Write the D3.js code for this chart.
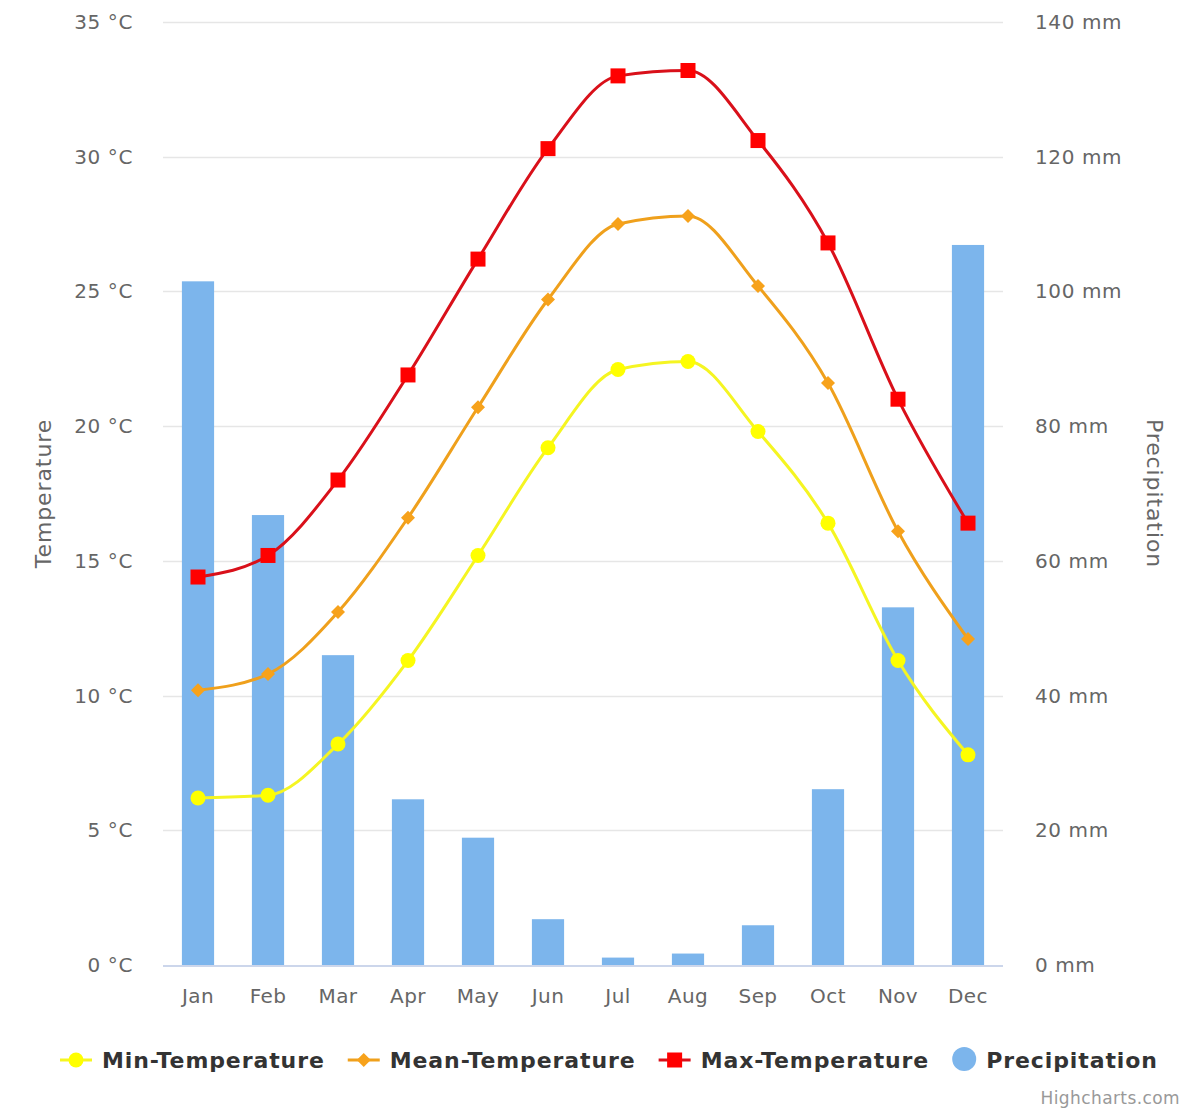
<!DOCTYPE html>
<html>
<head>
<meta charset="utf-8">
<script src="https://cdn.jsdelivr.net/npm/d3@7"></script>
<style>
  body { margin: 0; background: #fff; }
  text { font-family: "DejaVu Sans", sans-serif; }
</style>
</head>
<body>
<div id="chart"></div>
<script>
const months = ['Jan', 'Feb', 'Mar', 'Apr', 'May', 'Jun', 'Jul', 'Aug', 'Sep', 'Oct', 'Nov', 'Dec'];
const minTemp = [6.2, 6.3, 8.2, 11.3, 15.2, 19.2, 22.1, 22.4, 19.8, 16.4, 11.3, 7.8];
const meanTemp = [10.2, 10.8, 13.1, 16.6, 20.7, 24.7, 27.5, 27.8, 25.2, 21.6, 16.1, 12.1];
const maxTemp = [14.4, 15.2, 18.0, 21.9, 26.2, 30.3, 33.0, 33.2, 30.6, 26.8, 21.0, 16.4];
const precipitation = [101.5, 66.8, 46.0, 24.6, 18.9, 6.8, 1.1, 1.7, 5.9, 26.1, 53.1, 106.9];
const tempTicks = [0, 5, 10, 15, 20, 25, 30, 35];
const precTicks = [0, 20, 40, 60, 80, 100, 120, 140];

const W = 1189, H = 1115;
const plot = { left: 163, right: 1003, top: 22, bottom: 965 };

const svg = d3.select('#chart')
    .append('svg')
    .attr('width', W)
    .attr('height', H);

const x = d3.scaleBand()
    .domain(months)
    .range([plot.left, plot.right]);

const yT = d3.scaleLinear()
    .domain([0, 35])
    .range([plot.bottom, plot.top]);

const yP = d3.scaleLinear()
    .domain([0, 140])
    .range([plot.bottom, plot.top]);

const cx = m => x(m) + x.bandwidth() / 2;

// Grid lines
svg.append('g')
    .selectAll('line')
    .data(tempTicks.filter(t => t > 0))
    .enter()
    .append('line')
    .attr('x1', plot.left)
    .attr('x2', plot.right)
    .attr('y1', d => Math.round(yT(d)) + 0.5)
    .attr('y2', d => Math.round(yT(d)) + 0.5)
    .attr('stroke', '#e6e6e6')
    .attr('stroke-width', 1.5);

// Left axis labels
svg.append('g')
    .selectAll('text')
    .data(tempTicks)
    .enter()
    .append('text')
    .attr('x', 133)
    .attr('y', d => yT(d) + 7)
    .attr('text-anchor', 'end')
    .attr('font-size', 20)
    .attr('letter-spacing', 0.6)
    .attr('fill', '#666')
    .text(d => d + ' °C');

// Right axis labels
svg.append('g')
    .selectAll('text')
    .data(precTicks)
    .enter()
    .append('text')
    .attr('x', 1035)
    .attr('y', d => yP(d) + 7)
    .attr('text-anchor', 'start')
    .attr('font-size', 20)
    .attr('letter-spacing', 0.6)
    .attr('fill', '#666')
    .text(d => d + ' mm');

// Axis titles
svg.append('text')
    .attr('transform', `translate(51,${(plot.top + plot.bottom) / 2}) rotate(-90)`)
    .attr('text-anchor', 'middle')
    .attr('font-size', 22)
    .attr('letter-spacing', 0.9)
    .attr('fill', '#666')
    .text('Temperature');

svg.append('text')
    .attr('transform', `translate(1147,${(plot.top + plot.bottom) / 2}) rotate(90)`)
    .attr('text-anchor', 'middle')
    .attr('font-size', 22)
    .attr('letter-spacing', 0.9)
    .attr('fill', '#666')
    .text('Precipitation');

// Precipitation bars
const barW = x.bandwidth() * 0.46;
svg.append('g')
    .selectAll('rect')
    .data(precipitation)
    .enter()
    .append('rect')
    .attr('x', (d, i) => cx(months[i]) - barW / 2)
    .attr('y', d => yP(d))
    .attr('width', barW)
    .attr('height', d => yP(0) - yP(d))
    .attr('fill', '#7cb5ec');

// X axis line
svg.append('line')
    .attr('x1', plot.left)
    .attr('x2', plot.right)
    .attr('y1', plot.bottom + 1)
    .attr('y2', plot.bottom + 1)
    .attr('stroke', '#ccd6eb')
    .attr('stroke-width', 2);

// X labels
svg.append('g')
    .selectAll('text')
    .data(months)
    .enter()
    .append('text')
    .attr('x', d => cx(d))
    .attr('y', 1003)
    .attr('text-anchor', 'middle')
    .attr('font-size', 20)
    .attr('letter-spacing', 0.4)
    .attr('fill', '#666')
    .text(d => d);

// Temperature lines
const line = d3.line()
    .x((d, i) => cx(months[i]))
    .y(d => yT(d))
    .curve(d3.curveMonotoneX);

const series = [
    { name: 'Min-Temperature', data: minTemp, line: '#f5f522', fill: '#ffff00', symbol: 'circle' },
    { name: 'Mean-Temperature', data: meanTemp, line: '#efa01c', fill: '#f7a21b', symbol: 'diamond' },
    { name: 'Max-Temperature', data: maxTemp, line: '#d9101a', fill: '#ff0000', symbol: 'square' }
];

function drawMarker(g, type, px, py, color) {
    if (type === 'circle') {
        g.append('circle').attr('cx', px).attr('cy', py).attr('r', 7.5).attr('fill', color);
    } else if (type === 'square') {
        g.append('rect').attr('x', px - 7.5).attr('y', py - 7.5)
            .attr('width', 15).attr('height', 15).attr('fill', color);
    } else {
        g.append('path')
            .attr('d', `M${px},${py - 7}L${px + 7},${py}L${px},${py + 7}L${px - 7},${py}Z`)
            .attr('fill', color);
    }
}

series.forEach(s => {
    const g = svg.append('g');
    g.append('path')
        .attr('d', line(s.data))
        .attr('fill', 'none')
        .attr('stroke', s.line)
        .attr('stroke-width', 3);
    s.data.forEach((v, i) => drawMarker(g, s.symbol, cx(months[i]), yT(v), s.fill));
});

// Legend
const legend = svg.append('g');
const legendY = 1060;
const items = series.map(s => ({ name: s.name, color: s.fill, lineColor: s.line, symbol: s.symbol }))
    .concat([{ name: 'Precipitation', color: '#7cb5ec', symbol: 'column' }]);

let lx = 0;
items.forEach(it => {
    const ig = legend.append('g');
    const symW = it.symbol === 'column' ? 24 : 32;
    if (it.symbol === 'column') {
        ig.append('circle').attr('cx', lx + 12).attr('cy', legendY - 1).attr('r', 12).attr('fill', it.color);
    } else {
        ig.append('line').attr('x1', lx).attr('x2', lx + symW)
            .attr('y1', legendY).attr('y2', legendY)
            .attr('stroke', it.lineColor).attr('stroke-width', 3);
        drawMarker(ig, it.symbol, lx + symW / 2, legendY, it.color);
    }
    const t = ig.append('text')
        .attr('x', lx + symW + 10)
        .attr('y', legendY + 8)
        .attr('font-size', 22)
        .attr('font-weight', 'bold')
        .attr('letter-spacing', 0.9)
        .attr('fill', '#333')
        .text(it.name);
    lx += symW + 10 + t.node().getComputedTextLength() + 23;
});
const legendW = lx - 23;
legend.attr('transform', `translate(${60},0)`);

// Credits
svg.append('text')
    .attr('x', 1180)
    .attr('y', 1104)
    .attr('text-anchor', 'end')
    .attr('font-size', 17)
    .attr('letter-spacing', 0.4)
    .attr('fill', '#999')
    .text('Highcharts.com');
</script>
</body>
</html>
